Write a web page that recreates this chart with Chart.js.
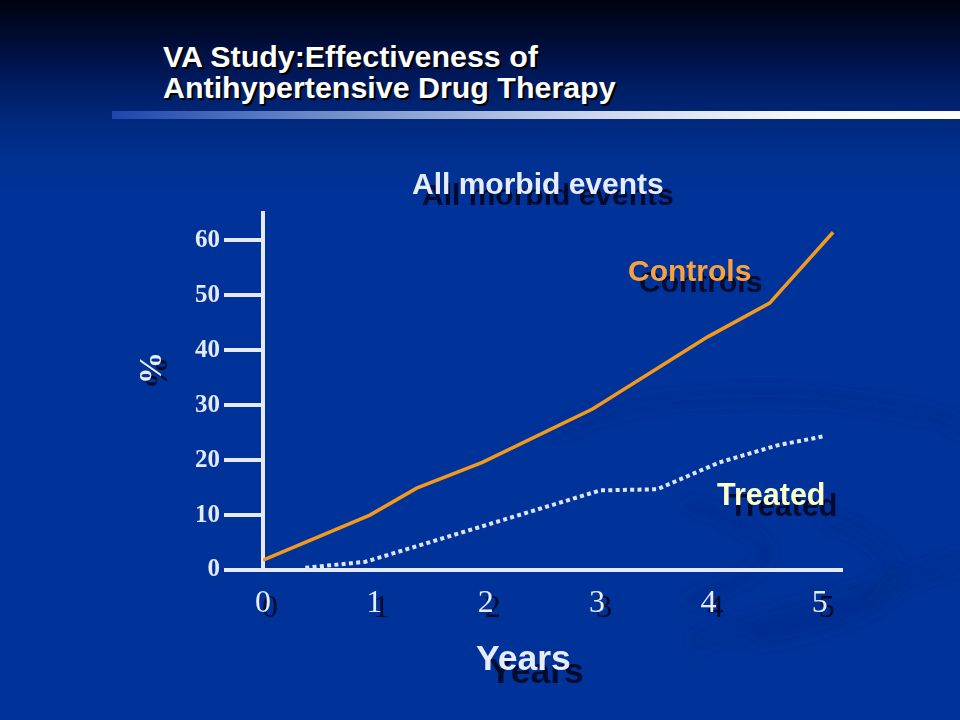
<!DOCTYPE html>
<html>
<head>
<meta charset="utf-8">
<script src="https://cdn.jsdelivr.net/npm/chart.js@4.4.1/dist/chart.umd.min.js"></script>
<style>
  html, body { margin: 0; padding: 0; background: #003399; }
  #slide {
    position: relative; width: 960px; height: 720px; overflow: hidden;
    background: linear-gradient(to bottom, #00020e 0px, #000c35 40px, #001a5e 80px, #00287c 120px, #003090 155px, #003399 200px, #003399 720px);
    font-family: "Liberation Sans", Arial, sans-serif;
  }
  #swirl { position: absolute; left: 0; top: 0; }
  #bar {
    position: absolute; left: 112px; top: 111px; width: 848px; height: 8px;
    background: linear-gradient(to right, #1d46ad 0%, #6f8cc8 25%, #c9d3ea 55%, #f4f6fc 80%, #ffffff 100%);
  }
  .txt { position: absolute; white-space: nowrap; font-weight: bold; }
  #title { left: 163px; top: 41px; font-size: 30.4px; line-height: 31px; color: #ffffff; text-shadow: 2px 2px 0 #000000; }
  #chartTitle { left: 412px; top: 169px; font-size: 30px; line-height: 30px; color: #e8ecfa; text-shadow: 10px 11px 0 #020a2e; }
  #controlsLbl { left: 628px; top: 256px; font-size: 30px; line-height: 30px; color: #f8a23e; text-shadow: 11px 11px 0 #020a2e; }
  #treatedLbl { left: 717px; top: 479px; font-size: 30.5px; line-height: 30px; color: #ffffcc; text-shadow: 12px 11px 0 #020a2e; }
  #yearsLbl { left: 476px; top: 641px; font-size: 35.5px; line-height: 35px; color: #e8ecfa; text-shadow: 13px 13px 0 #020a2e; }
  #pctLbl { left: 150px; top: 368px; font-family: "Liberation Serif", "Times New Roman", serif; font-size: 32px; line-height: 32px; color: #e8ecf8;
            transform: translate(-50%, -50%) rotate(-90deg); text-shadow: -5px 6px 0 #020a2e; }
  #chartBox { position: absolute; left: 0; top: 0; width: 960px; height: 720px; }
</style>
</head>
<body>
<div id="slide">
  <svg id="swirl" width="960" height="720" viewBox="0 0 960 720">
    <defs><filter id="blur"><feGaussianBlur stdDeviation="7"/></filter></defs>
    <g fill="none" stroke="#002b88" stroke-opacity="0.4" filter="url(#blur)" stroke-linecap="round">
      <path d="M 565 430 C 620 395, 760 390, 840 400 S 960 420, 960 430" stroke-width="16"/>
      <path d="M 690 505 C 740 520, 775 545, 765 560 S 720 590, 690 600" stroke-width="14"/>
      <path d="M 830 520 C 900 545, 905 580, 880 600 S 800 630, 760 640" stroke-width="18"/>
      <path d="M 700 640 C 800 610, 900 585, 960 560" stroke-width="22"/>
    </g>
  </svg>
  <div id="bar"></div>
  <div id="title" class="txt">VA Study:Effectiveness of<br>Antihypertensive Drug Therapy</div>
  <div id="chartBox"><canvas id="c" width="960" height="720"></canvas></div>
  <div id="chartTitle" class="txt">All morbid events</div>
  <div id="controlsLbl" class="txt">Controls</div>
  <div id="treatedLbl" class="txt">Treated</div>
  <div id="yearsLbl" class="txt">Years</div>
  <div id="pctLbl" class="txt">%</div>
</div>
<script>
// ---- data ----
const controlsYears = [0, 0.96, 1.38, 1.97, 2.96, 3.99, 4.55, 5.12];
const controlsPct   = [1.8, 10.0, 14.9, 19.6, 29.3, 42.4, 48.6, 61.5];
const treatedYears  = [0.38, 0.92, 3.03, 3.54, 4.10, 4.62, 5.05];
const treatedPct    = [0.4, 1.5, 14.5, 14.7, 19.6, 22.7, 24.4];
const yearTicks = [0, 1, 2, 3, 4, 5];
const pctTicks  = [0, 10, 20, 30, 40, 50, 60];

const toPoints = (xs, ys) => xs.map((x, i) => ({ x: x, y: ys[i] }));

const AXIS = '#e6eaf8';
const SHADOW = '#020a2e';

new Chart(document.getElementById('c'), {
  type: 'line',
  data: {
    datasets: [
      {
        label: 'Controls',
        data: toPoints(controlsYears, controlsPct),
        borderColor: '#f39a1c',
        borderWidth: 3.5,
        pointRadius: 0,
        tension: 0,
        fill: false
      },
      {
        label: 'Treated',
        data: toPoints(treatedYears, treatedPct),
        borderColor: '#dfe5f7',
        borderWidth: 4,
        borderDash: [4, 3.3],
        borderCapStyle: 'butt',
        pointRadius: 0,
        tension: 0,
        fill: false
      }
    ]
  },
  options: {
    responsive: false,
    animation: false,
    events: [],
    layout: { padding: { top: 213, right: 118, bottom: 0, left: 0 } },
    plugins: { legend: { display: false }, tooltip: { enabled: false }, title: { display: false } },
    scales: {
      xs: {
        type: 'linear',
        position: { y: 0 },
        min: 0, max: 5.2,
        grid: { display: false, drawTicks: false },
        border: { display: false },
        ticks: {
          z: -1,
          includeBounds: false,
          autoSkip: false,
          maxRotation: 0,
          padding: 19,
          labelOffset: 7,
          color: SHADOW,
          font: { family: '"Liberation Serif", "Times New Roman", serif', size: 32 }
        },
        afterBuildTicks: (scale) => { scale.ticks = yearTicks.map(v => ({ value: v })); }
      },
      x: {
        type: 'linear',
        position: 'bottom',
        min: 0, max: 5.2,
        grid: { display: false, drawTicks: false },
        border: { display: true, color: AXIS, width: 4 },
        ticks: {
          includeBounds: false,
          autoSkip: false,
          maxRotation: 0,
          padding: 14,
          color: '#e8ecf8',
          font: { family: '"Liberation Serif", "Times New Roman", serif', size: 32 }
        },
        afterBuildTicks: (scale) => { scale.ticks = yearTicks.map(v => ({ value: v })); },
        afterFit: (scale) => { scale.height = 150; }
      },
      y: {
        type: 'linear',
        position: 'left',
        min: 0, max: 65,
        grid: { drawOnChartArea: false, drawTicks: true, tickLength: 39, lineWidth: 4, tickWidth: 4, color: AXIS, tickColor: AXIS },
        border: { display: true, color: AXIS, width: 4 },
        ticks: {
          includeBounds: false,
          padding: 4,
          color: '#e6eaf8',
          font: { family: '"Liberation Serif", "Times New Roman", serif', size: 25, weight: 'bold' }
        },
        afterBuildTicks: (scale) => { scale.ticks = pctTicks.map(v => ({ value: v })); },
        afterFit: (scale) => { scale.width = 263; }
      }
    }
  }
});
</script>
</body>
</html>
